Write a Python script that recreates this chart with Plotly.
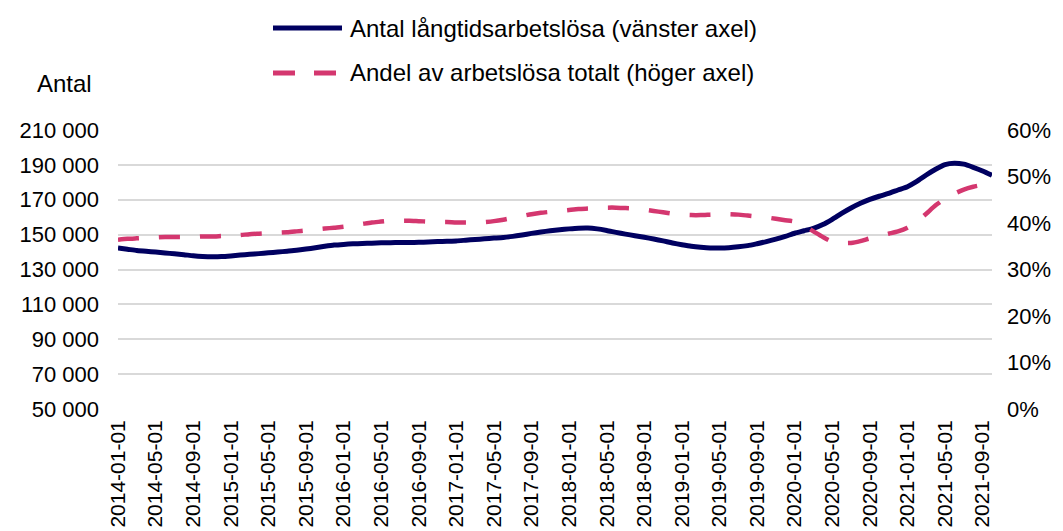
import plotly.graph_objects as go
import pandas as pd

# Monthly categories 2014-01 .. 2021-10
months = [d.strftime("%Y-%m-%d") for d in pd.date_range("2014-01-01", "2021-10-01", freq="MS")]

antal = [
    142300, 141600, 140900, 140400, 140000, 139500, 139000, 138500, 137900, 137500, 137300, 137400,  # 2014
    137800, 138300, 138700, 139100, 139600, 140000, 140500, 141000, 141700, 142500, 143300, 144000,  # 2015
    144400, 144700, 144900, 145100, 145300, 145400, 145500, 145500, 145600, 145800, 146000, 146200,  # 2016
    146400, 146800, 147200, 147600, 148000, 148400, 149000, 149800, 150700, 151500, 152200, 152800,  # 2017
    153300, 153700, 153800, 153300, 152400, 151300, 150300, 149400, 148500, 147500, 146400, 145200,  # 2018
    144200, 143300, 142700, 142300, 142300, 142500, 143000, 143700, 144800, 146000, 147400, 149000,  # 2019
    150800, 152200, 153600, 155800, 158800, 162200, 165300, 168000, 170200, 172000, 173600, 175600,  # 2020
    177500, 180500, 184200, 187500, 190200, 191000, 190400, 188600, 186500, 184000,                  # 2021
]

andel = [
    36.4, 36.6, 36.7, 36.8, 36.9, 37.0, 37.0, 37.0, 37.0, 37.1, 37.1, 37.2,  # 2014
    37.3, 37.4, 37.6, 37.7, 37.8, 37.9, 38.0, 38.2, 38.4, 38.6, 38.8, 39.0,  # 2015
    39.2, 39.5, 39.8, 40.1, 40.3, 40.5, 40.5, 40.5, 40.4, 40.3, 40.2, 40.2,  # 2016
    40.1, 40.1, 40.1, 40.2, 40.4, 40.7, 41.1, 41.5, 41.9, 42.2, 42.4, 42.6,  # 2017
    42.8, 43.0, 43.1, 43.2, 43.3, 43.3, 43.2, 43.1, 42.9, 42.6, 42.3, 42.0,  # 2018
    41.8, 41.7, 41.7, 41.8, 41.9, 41.9, 41.8, 41.6, 41.4, 41.2, 40.9, 40.6,  # 2019
    40.3, 39.4, 38.2, 37.0, 36.0, 35.7, 35.7, 36.1, 36.7, 37.2, 37.7, 38.2,  # 2020
    39.0, 40.3, 42.0, 43.8, 45.2, 46.3, 47.2, 47.8, 48.2, 48.5,              # 2021
]
andel_frac = [v / 100 for v in andel]

tick_labels = months[::4]
left_ticks = [50000, 70000, 90000, 110000, 130000, 150000, 170000, 190000, 210000]
right_ticks = [0, 0.1, 0.2, 0.3, 0.4, 0.5, 0.6]

NAVY = "#000060"
PINK = "#D4376F"
FONT = "Liberation Sans, Arial, sans-serif"

# page body has an 8px default margin; size the figure so it fits the 1063x531 window
OFF = 8
W, H = 1063 - OFF, 531 - OFF
L, T = 118 - OFF, 130 - OFF
PLOT_R, PLOT_B = 992 - OFF, 409 - OFF
R, B = W - PLOT_R, H - PLOT_B
PW, PH = W - L - R, H - T - B


def px(x):
    return (x - OFF - L) / PW


def py(y):
    return (PLOT_B - (y - OFF)) / PH


fig = go.Figure()
fig.add_trace(go.Scatter(
    x=months, y=antal, mode="lines", name="Antal långtidsarbetslösa (vänster axel)",
    line=dict(color=NAVY, width=5, shape="spline", smoothing=0.6), yaxis="y", showlegend=False,
))
fig.add_trace(go.Scatter(
    x=months, y=andel_frac, mode="lines", name="Andel av arbetslösa totalt (höger axel)",
    line=dict(color=PINK, width=4.5, dash="21px,20px", shape="spline", smoothing=0.6), yaxis="y2", showlegend=False,
))

shapes = [
    dict(type="line", xref="paper", yref="paper", x0=px(273), x1=px(342), y0=py(28), y1=py(28),
         line=dict(color=NAVY, width=5)),
    dict(type="line", xref="paper", yref="paper", x0=px(273), x1=px(338), y0=py(73), y1=py(73),
         line=dict(color=PINK, width=5, dash="22px,19px")),
]
annotations = [
    dict(text="Antal långtidsarbetslösa (vänster axel)", xref="paper", yref="paper", x=px(348), y=py(28),
         xanchor="left", yanchor="middle", showarrow=False, font=dict(size=24, color="#000000", family=FONT)),
    dict(text="Andel av arbetslösa totalt (höger axel)", xref="paper", yref="paper", x=px(348), y=py(73),
         xanchor="left", yanchor="middle", showarrow=False, font=dict(size=24, color="#000000", family=FONT)),
    dict(text="Antal", xref="paper", yref="paper", x=px(64), y=py(83),
         xanchor="center", yanchor="middle", showarrow=False, font=dict(size=24, color="#000000", family=FONT)),
]

fig.update_layout(
    width=W, height=H,
    margin=dict(l=L, r=R, t=T, b=B, pad=0, autoexpand=False),
    paper_bgcolor="white", plot_bgcolor="white",
    font=dict(family=FONT, size=22, color="#000000"),
    separators=", ",
    shapes=shapes, annotations=annotations,
    xaxis=dict(
        type="category", tickmode="array", tickvals=tick_labels, ticktext=tick_labels,
        tickangle=-90, tickfont=dict(size=21), showgrid=False, showline=False, ticks="",
        ticklabelstandoff=6, automargin=False,
    ),
    yaxis=dict(
        range=[50000, 210000], tickmode="array", tickvals=left_ticks, tickformat=",d",
        showgrid=True, gridcolor="#D9D9D9", gridwidth=1.5, zeroline=False, showline=False,
        ticks="", ticklabelstandoff=18, tickfont=dict(size=22), automargin=False,
    ),
    yaxis2=dict(
        range=[0, 0.6], overlaying="y", side="right", tickmode="array", tickvals=right_ticks,
        tickformat=".0%", showgrid=False, zeroline=False, showline=False, ticks="",
        ticklabelstandoff=14, tickfont=dict(size=22), automargin=False,
    ),
)

fig.write_html("out.html")
